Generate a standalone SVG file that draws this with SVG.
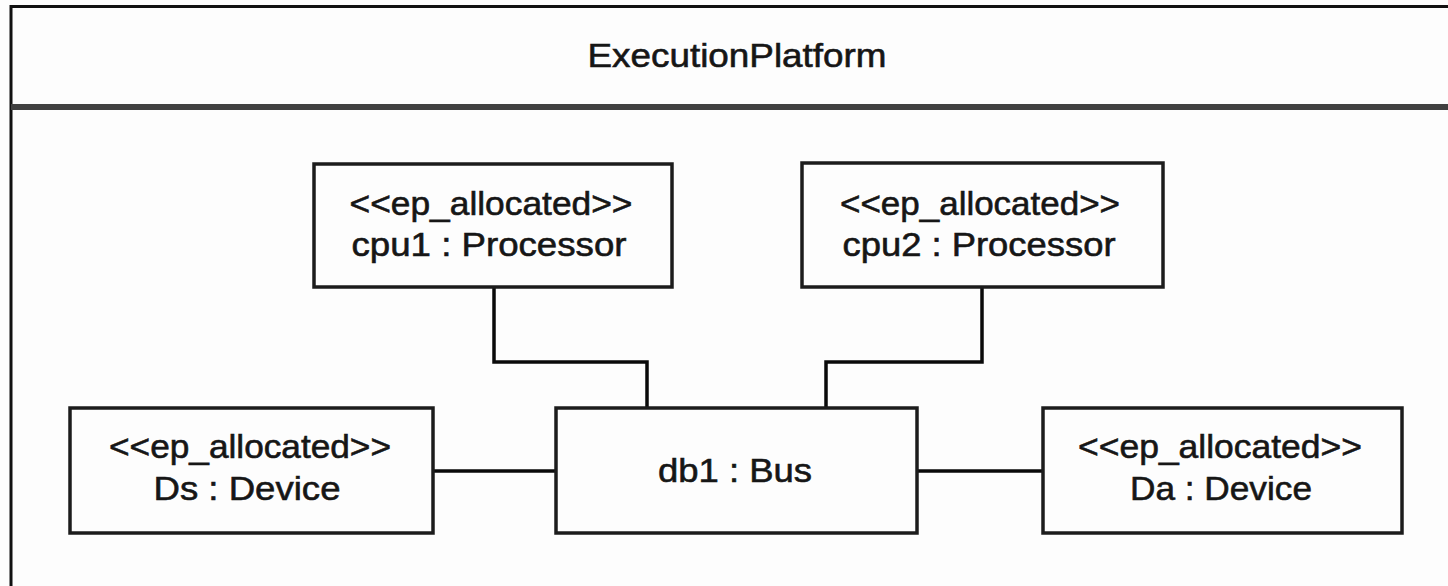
<svg xmlns="http://www.w3.org/2000/svg" width="1448" height="586" viewBox="0 0 1448 586">
  <style>
    .frame { fill: none; stroke: #111; stroke-width: 3; }
    .divider { stroke: #404040; stroke-width: 6; }
    .box { fill: #fdfdfd; stroke: #1c1c1c; stroke-width: 3.5; }
    .wire { fill: none; stroke: #0a0a0a; stroke-width: 3.5; }
    text { font-family: "Liberation Sans", Arial, sans-serif; font-size: 34px; fill: #161616; stroke: #161616; stroke-width: 0.6; text-anchor: middle; }
  </style>
  <rect x="0" y="0" width="1448" height="586" fill="#fdfdfd"/>

  <!-- package frame with its name compartment -->
  <g id="frame">
    <path class="frame" d="M1460,6.5 H11 V600"/>
    <line class="divider" x1="11" y1="107" x2="1460" y2="107"/>
    <text x="737" y="67" textLength="299" lengthAdjust="spacingAndGlyphs">ExecutionPlatform</text>
  </g>

  <!-- links between the platform parts -->
  <g id="connectors">
    <path class="wire" d="M494,288 V362 H647 V408"/>
    <path class="wire" d="M982,288 V362 H826 V408"/>
    <line class="wire" x1="433" y1="471" x2="556" y2="471"/>
    <line class="wire" x1="917" y1="471" x2="1043" y2="471"/>
  </g>

  <g id="cpu1">
    <rect class="box" x="314" y="164" width="358" height="123"/>
    <text x="491" y="215" textLength="283" lengthAdjust="spacingAndGlyphs">&lt;&lt;ep_allocated&gt;&gt;</text>
    <text x="489" y="256" textLength="275" lengthAdjust="spacingAndGlyphs">cpu1 : Processor</text>
  </g>

  <g id="cpu2">
    <rect class="box" x="802" y="163" width="361" height="124"/>
    <text x="980" y="215" textLength="280" lengthAdjust="spacingAndGlyphs">&lt;&lt;ep_allocated&gt;&gt;</text>
    <text x="979" y="256" textLength="273" lengthAdjust="spacingAndGlyphs">cpu2 : Processor</text>
  </g>

  <g id="Ds">
    <rect class="box" x="70" y="408" width="363" height="125"/>
    <text x="250" y="458" textLength="282" lengthAdjust="spacingAndGlyphs">&lt;&lt;ep_allocated&gt;&gt;</text>
    <text x="247" y="500" textLength="187" lengthAdjust="spacingAndGlyphs">Ds : Device</text>
  </g>

  <g id="db1">
    <rect class="box" x="556" y="408" width="361" height="125"/>
    <text x="735" y="482" textLength="154" lengthAdjust="spacingAndGlyphs">db1 : Bus</text>
  </g>

  <g id="Da">
    <rect class="box" x="1043" y="408" width="359" height="125"/>
    <text x="1220" y="458" textLength="284" lengthAdjust="spacingAndGlyphs">&lt;&lt;ep_allocated&gt;&gt;</text>
    <text x="1221" y="500" textLength="182" lengthAdjust="spacingAndGlyphs">Da : Device</text>
  </g>
</svg>
